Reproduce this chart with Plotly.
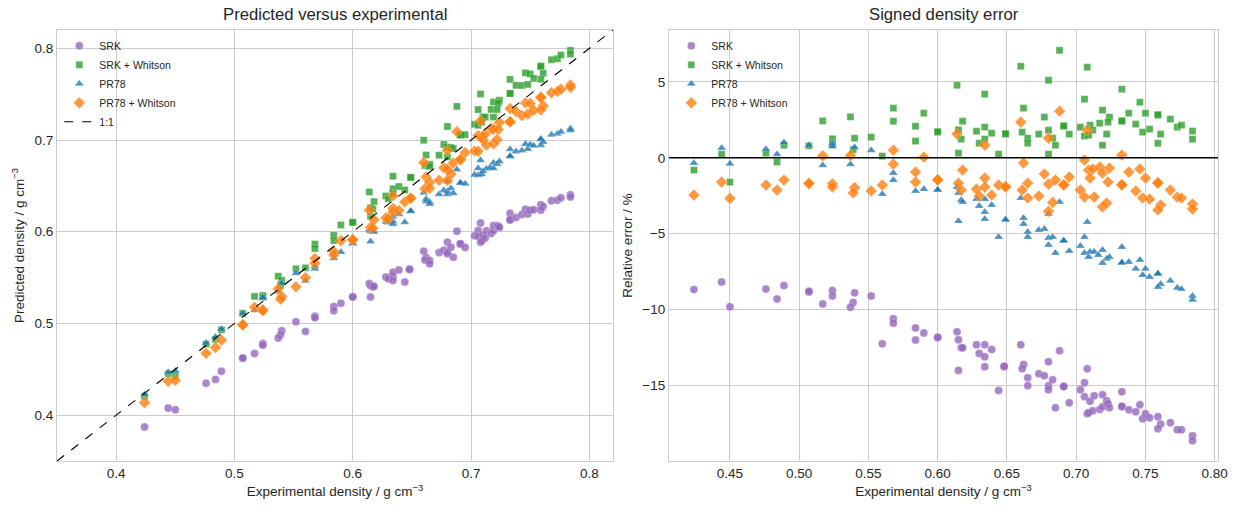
import plotly.graph_objects as go

# ---------------- data ----------------
srk_exp = [0.424,0.444,0.450,0.476,0.484,0.489,0.507,0.507,0.517,0.524,0.524,0.540,0.539,0.537,0.552,0.560,
           0.568,0.568,0.584,0.584,0.590,0.600,0.600,0.614,0.615,0.617,0.618,0.615,0.628,0.630,0.634,0.634,
           0.634,0.639,0.644,0.648,0.648,0.660,0.662,0.661,0.665,0.665,0.673,0.677,0.680,0.680,0.680,0.683,
           0.685,0.688,0.691,0.691,0.695,0.703,0.706,0.708,0.706,0.710,0.708,0.709,0.712,0.713,0.717,0.719,
           0.719,0.722,0.723,0.724,0.733,0.733,0.733,0.738,0.743,0.746,0.748,0.750,0.753,0.759,0.761,0.759,
           0.768,0.773,0.776,0.784,0.784]
srk_err = [-8.68,-8.18,-9.82,-8.64,-9.30,-8.42,-8.84,-8.80,-9.63,-8.75,-9.10,-8.90,-9.54,-9.85,-9.10,-12.26,
           -10.61,-10.90,-11.21,-12.00,-11.54,-11.86,-11.82,-11.47,-11.99,-12.52,-12.52,-14.01,-12.32,-12.89,-13.11,-12.32,
           -13.77,-12.63,-15.33,-13.77,-13.74,-12.32,-13.62,-13.90,-14.49,-15.02,-14.23,-14.36,-13.44,-15.02,-15.28,-14.63,
           -16.47,-12.72,-15.09,-15.06,-16.14,-15.28,-14.82,-13.90,-15.74,-16.05,-16.86,-16.80,-16.67,-15.68,-16.58,-16.40,
           -15.61,-16.01,-16.20,-16.47,-15.41,-16.40,-16.37,-16.60,-16.73,-16.27,-17.19,-16.86,-17.13,-17.06,-17.54,-17.85,
           -17.46,-17.92,-17.92,-18.31,-18.64]

srkw_exp = [0.424,0.444,0.450,0.476,0.484,0.489,0.507,0.517,0.524,0.524,0.537,0.540,0.539,0.552,0.560,0.568,
            0.568,0.584,0.584,0.590,0.600,0.600,0.614,0.634,0.660,0.662,0.618,0.615,0.617,0.615,0.628,0.634,
            0.639,0.630,0.634,0.644,0.649,0.649,0.661,0.665,0.665,0.673,0.677,0.688,0.708,0.680,0.733,0.706,
            0.719,0.724,0.691,0.691,0.680,0.683,0.695,0.685,0.680,0.703,0.710,0.717,0.723,0.733,0.733,0.738,
            0.706,0.712,0.722,0.719,0.709,0.746,0.750,0.759,0.759,0.768,0.773,0.776,0.784,0.784,0.743,0.748,
            0.753,0.761,0.759]
srkw_err = [-0.81,0.24,-1.60,0.31,-0.28,0.83,0.79,2.43,1.25,0.90,2.70,1.29,0.53,1.36,0.11,3.27,
            2.41,2.08,1.10,2.94,1.69,1.72,4.78,4.19,6.03,3.27,2.41,1.84,1.23,0.31,1.75,2.02,
            1.62,0.96,1.23,0.24,1.56,1.59,1.69,1.29,0.96,1.56,2.68,7.08,5.97,5.11,4.52,3.86,
            3.14,2.68,2.08,2.11,1.82,1.29,1.56,0.83,0.24,2.02,2.15,2.28,2.35,2.41,2.44,2.94,
            1.43,1.82,1.56,0.83,1.49,3.66,2.94,2.81,2.84,2.55,2.02,2.15,1.76,1.23,2.22,1.69,
            1.89,1.56,0.96]

pr_exp = [0.424,0.444,0.450,0.476,0.484,0.489,0.507,0.517,0.524,0.524,0.537,0.540,0.552,0.568,0.568,0.560,
          0.584,0.590,0.600,0.600,0.614,0.615,0.617,0.618,0.615,0.628,0.630,0.634,0.634,0.634,0.639,0.644,
          0.649,0.649,0.660,0.662,0.662,0.665,0.665,0.673,0.677,0.680,0.683,0.680,0.685,0.688,0.680,0.691,
          0.691,0.695,0.703,0.706,0.708,0.706,0.709,0.710,0.713,0.716,0.719,0.719,0.722,0.724,0.733,0.733,
          0.733,0.738,0.746,0.743,0.748,0.750,0.753,0.759,0.759,0.761,0.759,0.768,0.773,0.776,0.784,0.784]
pr_err = [-0.35,0.64,-0.39,0.57,0.24,1.01,0.83,-0.50,0.92,0.75,-0.42,0.70,0.50,-1.01,-1.47,-2.39,
          -2.19,-2.06,-2.13,-2.10,-1.93,-2.32,-2.78,-2.91,-4.17,-2.72,-3.18,-3.57,-2.72,-4.03,-3.11,-5.22,
          -4.10,-4.07,-2.65,-3.97,-4.36,-4.89,-5.22,-4.76,-4.69,-5.28,-5.22,-5.74,-6.27,-2.91,-3.70,-5.48,
          -5.45,-6.14,-5.81,-5.22,-4.23,-6.27,-6.53,-6.20,-6.20,-6.40,-6.07,-6.93,-6.66,-6.53,-5.88,-6.93,
          -6.90,-6.86,-6.73,-7.32,-7.72,-7.32,-7.85,-7.65,-7.62,-8.31,-8.51,-8.11,-8.57,-8.64,-9.10,-9.36]

prw_exp = [0.424,0.444,0.450,0.476,0.484,0.489,0.507,0.507,0.517,0.524,0.524,0.537,0.540,0.539,0.552,0.560,
           0.568,0.568,0.584,0.584,0.590,0.600,0.600,0.614,0.634,0.660,0.618,0.662,0.615,0.617,0.628,0.630,
           0.634,0.634,0.639,0.644,0.649,0.649,0.661,0.665,0.665,0.673,0.688,0.680,0.708,0.677,0.680,0.685,
           0.691,0.691,0.695,0.683,0.680,0.703,0.706,0.706,0.709,0.710,0.713,0.712,0.717,0.719,0.724,0.723,
           0.719,0.722,0.733,0.733,0.733,0.738,0.746,0.750,0.743,0.748,0.753,0.759,0.759,0.761,0.759,0.768,
           0.773,0.776,0.784,0.784]
prw_err = [-2.46,-1.60,-2.68,-1.80,-2.13,-1.47,-1.71,-1.68,0.13,-1.71,-1.93,0.15,-1.97,-2.32,-2.19,-1.80,
           0.50,-0.42,-0.94,-1.60,0.04,-1.47,-1.44,1.56,0.83,2.35,-0.81,-0.35,-1.67,-2.13,-2.06,-2.52,
           -1.34,-1.93,-2.46,-1.80,-1.93,-1.90,-2.13,-1.67,-2.65,-2.52,3.07,1.29,1.82,-1.07,-1.73,-1.47,
           -1.80,-1.77,-1.27,-2.94,-3.53,-2.13,-2.59,-0.15,-0.81,-1.34,-2.59,-0.74,-0.61,-1.01,-0.68,-1.60,
           -3.24,-2.98,-1.80,-1.77,0.18,-0.94,-0.74,-1.34,-2.19,-2.65,-2.72,-1.67,-1.64,-3.11,-3.44,-2.13,
           -2.59,-2.65,-3.05,-3.38]

series_names = ["SRK", "SRK + Whitson", "PR78", "PR78 + Whitson"]
xy_lims = [0.35, 0.82]

# ---------------- styling ----------------
colors = ["#9467bd", "#2ca02c", "#1f77b4", "#ff7f0e"]
symbols = ["circle", "square", "triangle-up", "diamond"]
sizes = [8, 7, 8, 9]
FONT = "Liberation Sans, Arial, sans-serif"
TXT = "#262626"

data = [(srk_exp, srk_err), (srkw_exp, srkw_err), (pr_exp, pr_err), (prw_exp, prw_err)]

fig = go.Figure()

# left panel: predicted vs experimental
for (ex, er), name, c, s, sz in zip(data, series_names, colors, symbols, sizes):
    pred = [x * (1 + e / 100.0) for x, e in zip(ex, er)]
    fig.add_trace(go.Scatter(
        x=ex, y=pred, mode="markers", name=name, xaxis="x", yaxis="y",
        marker=dict(color=c, symbol=s, size=sz, opacity=0.8,
                    line=dict(color="rgba(255,255,255,0.6)", width=0.5)),
        legend="legend"))
fig.add_trace(go.Scatter(
    x=xy_lims, y=xy_lims, mode="lines", name="1:1", xaxis="x", yaxis="y",
    line=dict(color="black", width=1.1, dash="dash"), legend="legend"))

# right panel: signed error
for (ex, er), name, c, s, sz in zip(data, series_names, colors, symbols, sizes):
    fig.add_trace(go.Scatter(
        x=ex, y=er, mode="markers", name=name, xaxis="x2", yaxis="y2",
        marker=dict(color=c, symbol=s, size=sz, opacity=0.8,
                    line=dict(color="rgba(255,255,255,0.6)", width=0.5)),
        legend="legend2"))

fig.add_shape(type="line", xref="x2 domain", yref="y2", x0=0, x1=1, y0=0, y1=0,
              line=dict(color="black", width=1.4), layer="above")

L, R, T, B = 57, 21, 30, 49
W, H = 1239, 510
pw = W - L - R
d1 = [0, (613 - L) / pw]
d2 = [(669 - L) / pw, 1]

axis_common = dict(showgrid=True, gridcolor="#cccccc", gridwidth=1, zeroline=False,
                   showline=True, linecolor="#cccccc", linewidth=1.25, mirror=True,
                   ticks="", tickfont=dict(size=13.5, color=TXT, family=FONT),
                   title_font=dict(size=13.5, color=TXT, family=FONT))

legend_common = dict(xanchor="left", yanchor="top", bgcolor="rgba(0,0,0,0)",
                     font=dict(size=10.5, color=TXT, family=FONT), tracegroupgap=0)

fig.update_layout(
    width=W, height=H,
    margin=dict(l=L, r=R, t=T, b=B),
    paper_bgcolor="white", plot_bgcolor="white",
    font=dict(family=FONT, color=TXT),
    xaxis=dict(domain=d1, range=[0.35, 0.82], tickvals=[0.4, 0.5, 0.6, 0.7, 0.8],
               ticktext=["0.4", "0.5", "0.6", "0.7", "0.8"],
               title=dict(text="Experimental density / g cm<sup>−3</sup>", standoff=6),
               anchor="y", **axis_common),
    yaxis=dict(domain=[0, 1], range=[0.35, 0.82], tickvals=[0.4, 0.5, 0.6, 0.7, 0.8],
               ticktext=["0.4", "0.5", "0.6", "0.7", "0.8"],
               title=dict(text="Predicted density / g cm<sup>−3</sup>", standoff=6),
               anchor="x", **axis_common),
    xaxis2=dict(domain=d2, range=[0.406, 0.8024],
                tickvals=[0.45, 0.5, 0.55, 0.6, 0.65, 0.7, 0.75, 0.8],
                ticktext=["0.45", "0.50", "0.55", "0.60", "0.65", "0.70", "0.75", "0.80"],
                title=dict(text="Experimental density / g cm<sup>−3</sup>", standoff=6),
                anchor="y2", **axis_common),
    yaxis2=dict(domain=[0, 1], range=[-19.98, 8.42], tickvals=[-15, -10, -5, 0, 5],
                title=dict(text="Relative error / %", standoff=6),
                anchor="x2", **axis_common),
    legend=dict(x=0.002, y=0.997, **legend_common),
    legend2=dict(x=d2[0] + 0.002, y=0.997, **legend_common),
    annotations=[
        dict(text="Predicted versus experimental", x=(d1[0] + d1[1]) / 2, y=1, xref="paper",
             yref="paper", xanchor="center", yanchor="bottom", yshift=4, showarrow=False,
             font=dict(size=16.7, color=TXT, family=FONT)),
        dict(text="Signed density error", x=(d2[0] + d2[1]) / 2, y=1, xref="paper",
             yref="paper", xanchor="center", yanchor="bottom", yshift=4, showarrow=False,
             font=dict(size=16.7, color=TXT, family=FONT)),
    ],
)

fig.write_html("out.html")
